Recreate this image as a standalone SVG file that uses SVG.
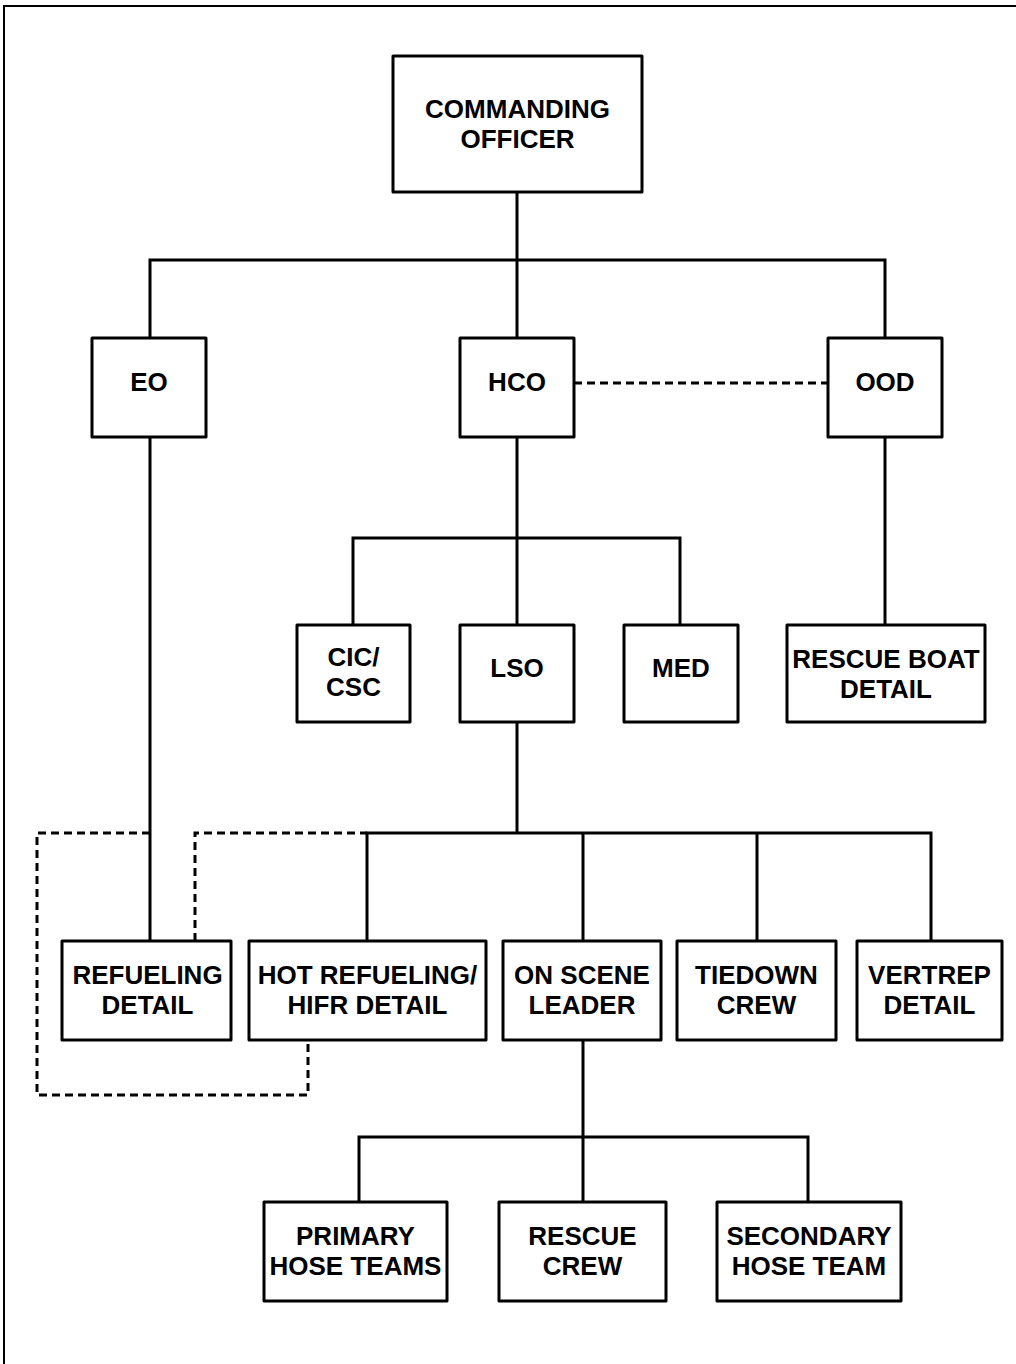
<svg xmlns="http://www.w3.org/2000/svg" width="1016" height="1364" viewBox="0 0 1016 1364">
<style>
.box{fill:#fff;stroke:#000;stroke-width:3;stroke-linejoin:round}
.ln{fill:none;stroke:#000;stroke-width:3}
.dash{fill:none;stroke:#000;stroke-width:3;stroke-dasharray:8 5}
text{font-family:"Liberation Sans",Arial,sans-serif;font-weight:bold;font-size:26px;text-anchor:middle;fill:#000}
</style>
<rect width="1016" height="1364" fill="#fff"/>
<path d="M4,1364 V6 H1016" fill="none" stroke="#000" stroke-width="2"/>
<g id="connectors">
<path class="ln" d="M517,192 V338 M150,338 V260 H885 V338"/>
<path class="dash" d="M574,383 H828"/>
<path class="ln" d="M517,437 V625 M353,625 V538 H680 V625"/>
<path class="ln" d="M885,437 V625"/>
<path class="ln" d="M150,437 V941"/>
<path class="ln" d="M517,722 V833 M367,941 V833 H931 V941 M583,833 V941 M757,833 V941"/>
<path class="dash" d="M150,833 H37 V1095 H308 V1040"/>
<path class="dash" d="M195,941 V833 H367"/>
<path class="ln" d="M583,1040 V1202 M359,1202 V1137 H808 V1202"/>
</g>
<g id="co"><rect class="box" x="393" y="56" width="249" height="136"/><text x="517.5" y="118">COMMANDING</text><text x="517.5" y="148">OFFICER</text></g>
<g id="eo"><rect class="box" x="92" y="338" width="114" height="99"/><text x="149" y="391">EO</text></g>
<g id="hco"><rect class="box" x="460" y="338" width="114" height="99"/><text x="517" y="391">HCO</text></g>
<g id="ood"><rect class="box" x="828" y="338" width="114" height="99"/><text x="885" y="391">OOD</text></g>
<g id="cic"><rect class="box" x="297" y="625" width="113" height="97"/><text x="353.5" y="666">CIC/</text><text x="353.5" y="696">CSC</text></g>
<g id="lso"><rect class="box" x="460" y="625" width="114" height="97"/><text x="517" y="677">LSO</text></g>
<g id="med"><rect class="box" x="624" y="625" width="114" height="97"/><text x="681" y="677">MED</text></g>
<g id="rescueboat"><rect class="box" x="787" y="625" width="198" height="97"/><text x="886" y="668">RESCUE BOAT</text><text x="886" y="698">DETAIL</text></g>
<g id="refueling"><rect class="box" x="62" y="941" width="169" height="99"/><text x="147.5" y="984">REFUELING</text><text x="147.5" y="1014">DETAIL</text></g>
<g id="hotrefueling"><rect class="box" x="249" y="941" width="237" height="99"/><text x="367.5" y="984">HOT REFUELING/</text><text x="367.5" y="1014">HIFR DETAIL</text></g>
<g id="onscene"><rect class="box" x="503" y="941" width="158" height="99"/><text x="582" y="984">ON SCENE</text><text x="582" y="1014">LEADER</text></g>
<g id="tiedown"><rect class="box" x="677" y="941" width="159" height="99"/><text x="756.5" y="984">TIEDOWN</text><text x="756.5" y="1014">CREW</text></g>
<g id="vertrep"><rect class="box" x="857" y="941" width="145" height="99"/><text x="929.5" y="984">VERTREP</text><text x="929.5" y="1014">DETAIL</text></g>
<g id="primary"><rect class="box" x="264" y="1202" width="183" height="99"/><text x="355.5" y="1245">PRIMARY</text><text x="355.5" y="1275">HOSE TEAMS</text></g>
<g id="rescuecrew"><rect class="box" x="499" y="1202" width="167" height="99"/><text x="582.5" y="1245">RESCUE</text><text x="582.5" y="1275">CREW</text></g>
<g id="secondary"><rect class="box" x="717" y="1202" width="184" height="99"/><text x="809" y="1245">SECONDARY</text><text x="809" y="1275">HOSE TEAM</text></g>
</svg>
